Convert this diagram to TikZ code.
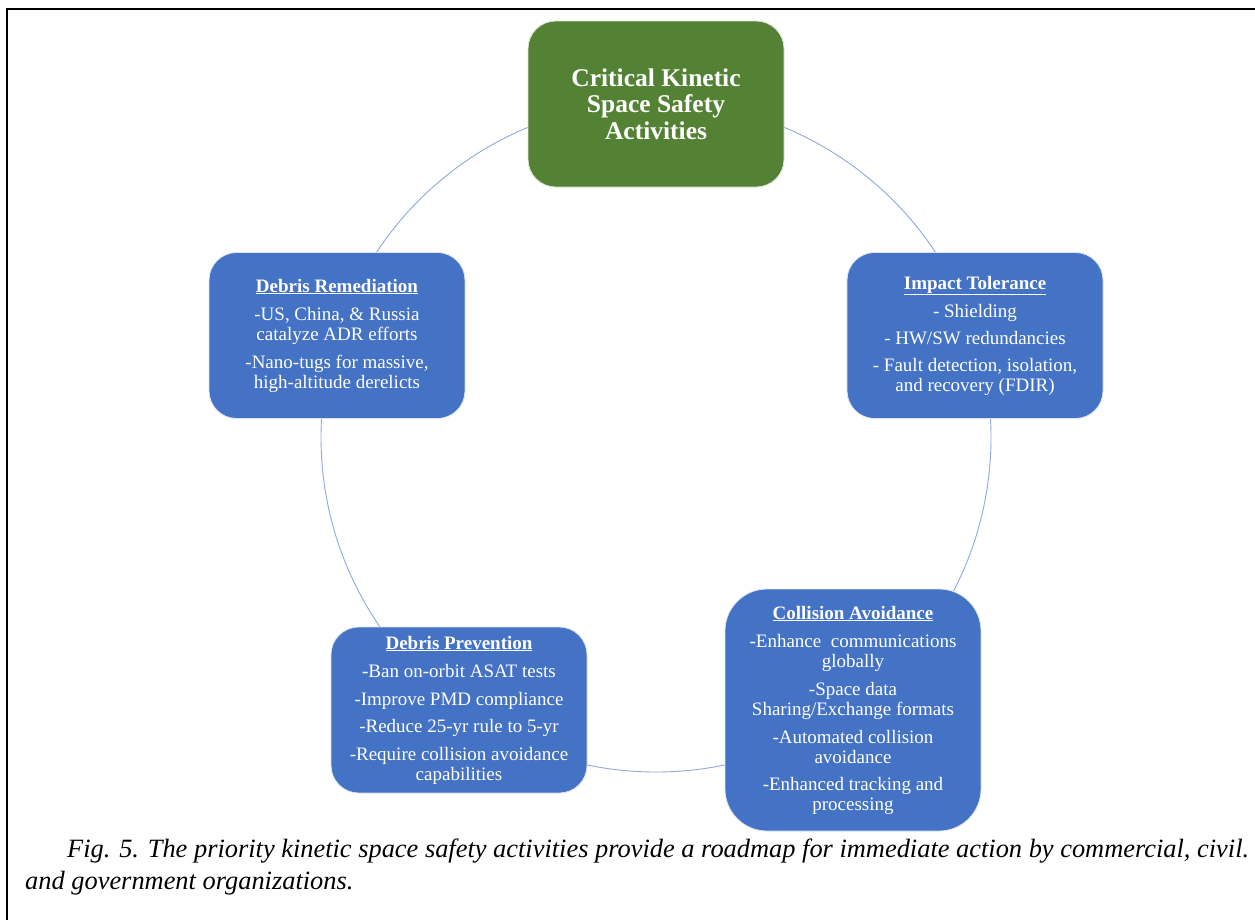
\documentclass[tikz,border=0pt]{standalone}
\usepackage{fontspec}
\setmainfont{Liberation Serif}
\definecolor{boxblue}{HTML}{4472C4}
\definecolor{boxgreen}{HTML}{548235}
\definecolor{ringblue}{HTML}{8FAADC}
\begin{document}
\begin{tikzpicture}[x=1pt,y=-1pt,
  card/.style={rectangle, rounded corners=27.7pt, fill=boxblue, draw=white!80!boxblue,
    line width=0.8pt, text=white, align=center, minimum width=256pt, minimum height=166pt,
    inner sep=0pt, font=\fontsize{19}{20}\selectfont},
  hubcard/.style={card, fill=boxgreen, draw=white!80!boxgreen, font=\fontsize{25.5}{26.5}\selectfont\bfseries},
  ring/.style={draw=ringblue, line width=0.9pt},
  frame/.style={draw=black, line width=2pt},
  caption/.style={anchor=base west, align=left, inner sep=0pt, font=\fontsize{26.4}{32}\selectfont\itshape}]
\useasboundingbox (0,0) rectangle (1255,919);
\fill[white] (0,0) rectangle (1255,919);
\draw[frame] (1256,9) -- (7,9) -- (7,920);
\coordinate (hub) at (656,437);
\draw[ring] (hub) circle[radius=335pt];
\node[hubcard] (core) at (656,104) {Critical Kinetic\\Space Safety\\Activities};
\node[card] (impact) at (975,335.5) {\textbf{\underline{Impact Tolerance}}\\[8pt]- Shielding\\[7pt]- HW/SW redundancies\\[7pt]- Fault detection, isolation,\\and recovery (FDIR)};
\node[card, rounded corners=42pt, minimum height=242pt] (collision) at (853,710) {\textbf{\underline{Collision Avoidance}}\\[8pt]-Enhance\ \ communications\\globally\\[8pt]-Space data\\Sharing/Exchange formats\\[8pt]-Automated collision\\avoidance\\[7pt]-Enhanced tracking and\\processing};
\node[card] (prevention) at (459,710) {\textbf{\underline{Debris Prevention}}\\[8pt]-Ban on-orbit ASAT tests\\[8pt]-Improve PMD compliance\\[7pt]-Reduce 25-yr rule to 5-yr\\[8pt]-Require collision avoidance\\capabilities};
\node[card] (remediation) at (337,335.5) {\textbf{\underline{Debris Remediation}}\\[8pt]-US, China, \& Russia\\catalyze ADR efforts\\[8pt]-Nano-tugs for massive,\\high-altitude derelicts};
\node[caption] (cap) at (25,889) {\hspace*{42pt}Fig. 5. The priority kinetic space safety activities provide a roadmap for immediate action by commercial, civil.\\and government organizations.};
\end{tikzpicture}
\end{document}
